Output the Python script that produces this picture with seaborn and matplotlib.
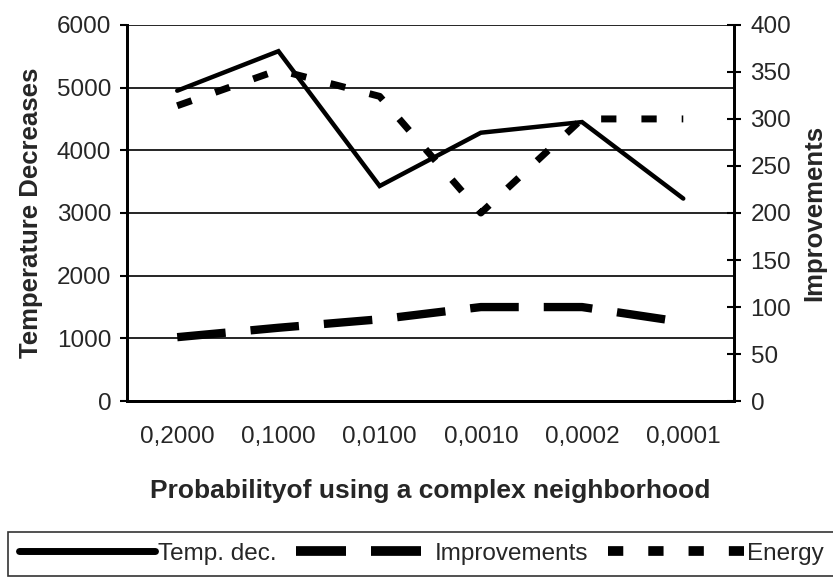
import numpy as np
import pandas as pd
import matplotlib
matplotlib.use("Agg")
import matplotlib.pyplot as plt
import seaborn as sns
from matplotlib.lines import Line2D

# data
categories = ["0,2000", "0,1000", "0,0100", "0,0010", "0,0002", "0,0001"]
temp_dec = [4950, 5580, 3430, 4280, 4450, 3230]      # left axis
improvements = [68, 78, 87, 100, 100, 84]            # right axis
energy = [314, 352, 324, 200, 300, 300]              # right axis

sns.set_theme(style="white")
plt.rcParams["font.family"] = ["Liberation Sans", "DejaVu Sans"]
plt.rcParams["lines.scale_dashes"] = False

df = pd.DataFrame({
    "pos": np.arange(len(categories)),
    "temp": temp_dec,
    "impr": improvements,
    "energy": energy,
})

fig = plt.figure(figsize=(8.33, 5.78), dpi=100)
ax = fig.add_axes([0.152, 0.306, 0.729, 0.651])
ax2 = ax.twinx()

impr_ls = (0, (35, 18))
energy_ls = (0, (11, 18))

sns.lineplot(data=df, x="pos", y="temp", ax=ax, color="black", linewidth=3.2,
             solid_joinstyle="miter", legend=False)
sns.lineplot(data=df, x="pos", y="impr", ax=ax2, color="black", linewidth=6,
             linestyle=impr_ls, dash_capstyle="butt", legend=False)
sns.lineplot(data=df, x="pos", y="energy", ax=ax2, color="black", linewidth=5,
             linestyle=energy_ls, dash_capstyle="butt", legend=False)

fs = 17.5
ax.set_xlim(-0.5, len(categories) - 0.5)
ax.set_ylim(0, 6000)
ax.set_yticks(np.arange(0, 6001, 1000))
ax2.set_ylim(0, 400)
ax2.set_yticks(np.arange(0, 401, 50))

ax.set_xticks(np.arange(len(categories)))
ax.set_xticklabels(categories, fontsize=fs)
ax.set_xticks(np.arange(-0.5, len(categories), 1.0), minor=True)
ax.tick_params(axis="x", which="major", length=0, pad=18)
ax.tick_params(axis="x", which="minor", length=5, width=1.5, direction="out", color="black")
ax.tick_params(axis="y", length=5, width=1.5, direction="out", color="black", labelsize=fs, pad=6)
ax2.tick_params(axis="y", length=10, width=1.5, direction="inout", color="black", labelsize=fs, pad=7)

ax.grid(axis="y", color="black", linewidth=1.2)
ax.set_axisbelow(True)

for a in (ax, ax2):
    for side in ("left", "right", "bottom"):
        a.spines[side].set_color("black")
        a.spines[side].set_linewidth(2)
    a.spines["top"].set_visible(False)

ax.set_xlabel("Probabilityof using a complex neighborhood", fontsize=19, fontweight="bold", labelpad=22)
ax.set_ylabel("Temperature Decreases", fontsize=18.5, fontweight="bold", labelpad=10)
ax2.set_ylabel("Improvements", fontsize=18.5, fontweight="bold", labelpad=8)

handles = [
    Line2D([], [], color="black", linewidth=5),
    Line2D([], [], color="black", linewidth=7, linestyle=(0, (36, 18)), dash_capstyle="butt"),
    Line2D([], [], color="black", linewidth=7, linestyle=(0, (11, 18)), dash_capstyle="butt"),
]
labels = ["Temp. dec.", "Improvements", "Energy"]
leg = fig.legend(handles, labels, loc="lower center", bbox_to_anchor=(0.506, 0.0), ncol=3,
                 fontsize=fs, frameon=True, fancybox=False, handlelength=5.6,
                 handletextpad=0.12, columnspacing=0.8, borderpad=0.45, borderaxespad=0.1)
leg.get_frame().set_edgecolor("black")
leg.get_frame().set_linewidth(1.2)

fig.savefig("out.png", dpi=100)
